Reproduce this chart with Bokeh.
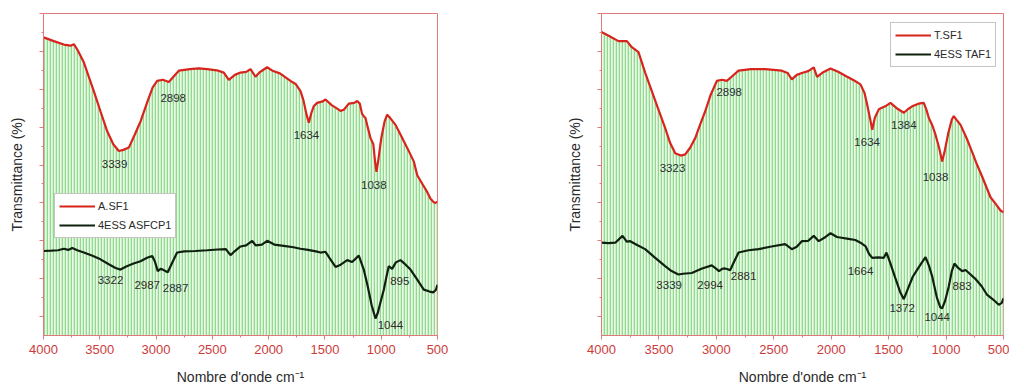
from bokeh.plotting import figure
from bokeh.layouts import row
from bokeh.models import Range1d, FixedTicker, Legend, LegendItem, ColumnDataSource
from bokeh.core.properties import value
from bokeh.embed import file_html
from bokeh.resources import INLINE

# ---------------- data ----------------
a_red_wn = [4000, 3908, 3820, 3760, 3730, 3700, 3686, 3642, 3553, 3494, 3434, 3380, 3331, 3290, 3242, 3190,
            3138, 3080, 3030, 2990, 2940, 2887, 2840, 2798, 2700, 2620, 2546, 2460, 2398, 2354, 2300, 2250,
            2200, 2161, 2117, 2080, 2013, 1960, 1900, 1806, 1760, 1717, 1690, 1665, 1643, 1620, 1600, 1569,
            1520, 1495, 1440, 1391, 1362, 1332, 1288, 1240, 1214, 1190, 1170, 1155, 1140, 1120, 1095, 1070,
            1055, 1042, 1025, 1000, 970, 947, 920, 873, 820, 760, 710, 680, 630, 592, 562, 533, 518, 500]
a_red_t = [78.7, 77.7, 76.8, 76.5, 76.9, 75.5, 74.7, 72.1, 64.5, 59.2, 53.9, 50.5, 48.7, 49.0, 49.6, 53.0,
           56.5, 61.5, 65.5, 67.2, 67.5, 66.9, 68.5, 69.9, 70.3, 70.5, 70.3, 70.0, 69.4, 67.5, 68.8, 69.4,
           69.6, 70.3, 68.3, 69.5, 70.8, 69.8, 69.2, 67.2, 66.4, 64.5, 62.0, 58.5, 56.2, 58.8, 60.5, 61.4,
           61.8, 62.3, 60.8, 59.9, 59.3, 59.6, 61.2, 61.4, 61.9, 61.2, 58.5, 57.9, 57.4, 55.0, 52.1, 50.5,
           46.0, 43.2, 46.5, 52.0, 56.5, 58.3, 57.4, 55.6, 52.5, 49.0, 45.9, 42.3, 39.8, 37.9, 36.1, 35.2, 35.0, 35.3]

a_blk_wn = [4000, 3930, 3870, 3820, 3780, 3745, 3700, 3642, 3570, 3494, 3420, 3360, 3316, 3260, 3200, 3138,
            3080, 3034, 3010, 2985, 2960, 2940, 2910, 2896, 2860, 2813, 2750, 2650, 2546, 2450, 2380, 2339,
            2300, 2250, 2200, 2146, 2116, 2060, 2013, 1950, 1850, 1780, 1717, 1650, 1580, 1539, 1495, 1460,
            1406, 1360, 1302, 1258, 1220, 1199, 1180, 1155, 1120, 1085, 1051, 1030, 1000, 977, 950, 933,
            903, 870, 829, 790, 740, 690, 622, 570, 538, 515, 500]
a_blk_t = [22.3, 22.4, 22.5, 22.9, 22.6, 23.1, 22.5, 21.9, 21.1, 20.1, 18.8, 17.8, 17.4, 18.3, 19.0, 19.6,
           20.5, 21.0, 19.5, 17.0, 17.6, 17.4, 16.9, 16.7, 19.0, 21.9, 22.2, 22.3, 22.5, 22.7, 22.8, 21.2,
           22.3, 23.5, 23.8, 25.0, 23.8, 24.0, 25.0, 24.0, 23.6, 23.3, 22.9, 22.6, 22.2, 21.9, 22.1, 20.5,
           18.1, 18.7, 19.9, 19.4, 20.5, 21.1, 19.5, 17.4, 13.0, 8.0, 4.5, 6.0, 9.5, 12.1, 16.0, 18.3,
           17.6, 19.3, 19.9, 18.9, 17.4, 15.2, 12.1, 11.6, 11.4, 12.0, 13.4]

t_red_wn = [4000, 3930, 3852, 3779, 3736, 3678, 3620, 3562, 3504, 3446, 3402, 3358, 3310, 3271, 3230, 3184,
            3140, 3097, 3050, 2996, 2950, 2909, 2860, 2807, 2700, 2575, 2500, 2430, 2380, 2343, 2300, 2256,
            2200, 2152, 2123, 2070, 2006, 1940, 1861, 1800, 1745, 1710, 1687, 1660, 1643, 1620, 1586, 1530,
            1484, 1430, 1368, 1330, 1295, 1240, 1194, 1170, 1150, 1120, 1092, 1060, 1034, 1010, 980, 950,
            933, 910, 874, 820, 770, 729, 680, 613, 570, 526, 500]
t_red_t = [80.1, 79.0, 77.7, 77.7, 76.1, 74.8, 69.4, 64.5, 59.6, 54.8, 50.8, 48.1, 47.5, 47.8, 49.5, 52.1,
           55.8, 59.2, 63.5, 67.2, 67.5, 67.2, 68.5, 69.9, 70.3, 70.3, 70.1, 69.9, 69.3, 67.6, 68.8, 69.3,
           69.8, 70.8, 68.3, 69.5, 70.5, 69.6, 68.3, 67.3, 66.3, 64.0, 61.0, 57.0, 54.3, 57.5, 59.7, 60.5,
           61.4, 60.0, 58.8, 59.8, 60.5, 61.2, 61.4, 59.5, 57.4, 55.5, 53.0, 49.5, 45.9, 49.0, 53.5, 57.0,
           57.9, 57.0, 55.6, 52.0, 48.2, 45.0, 41.5, 36.5, 34.8, 33.0, 32.5]

t_blk_wn = [4000, 3940, 3880, 3817, 3780, 3750, 3690, 3620, 3540, 3446, 3390, 3330, 3290, 3214, 3130, 3040,
            3000, 2977, 2950, 2925, 2900, 2880, 2850, 2807, 2720, 2633, 2520, 2401, 2343, 2300, 2256, 2200,
            2152, 2109, 2060, 2006, 1950, 1850, 1790, 1745, 1700, 1670, 1643, 1590, 1542, 1519, 1490, 1440,
            1400, 1368, 1330, 1290, 1251, 1210, 1179, 1150, 1121, 1080, 1050, 1034, 1010, 976, 950, 927,
            900, 860, 830, 787, 740, 690, 642, 590, 541, 515, 500]
t_blk_t = [24.5, 24.4, 24.5, 26.3, 24.8, 24.9, 23.9, 22.8, 20.7, 18.3, 17.0, 16.1, 16.3, 16.5, 17.6, 18.5,
           17.6, 17.0, 17.6, 17.7, 17.5, 17.2, 19.2, 21.9, 22.5, 22.8, 23.5, 24.1, 22.8, 23.4, 24.9, 25.0,
           26.3, 24.9, 25.8, 27.0, 26.0, 25.5, 25.2, 24.5, 23.5, 21.5, 20.5, 20.6, 20.5, 21.9, 19.5, 15.0,
           11.5, 9.6, 12.5, 15.5, 17.4, 19.3, 20.7, 18.5, 15.6, 10.0, 7.4, 7.2, 9.0, 13.0, 17.0, 19.0,
           18.0, 17.0, 17.3, 16.1, 14.8, 13.0, 10.7, 9.5, 8.1, 8.6, 9.8]

# peak labels (text, wavenumber, transmittance position)
a_lab_text = ["3339", "2898", "1634", "1038", "3322", "2987", "2887", "1044", "895"]
a_lab_wn = [3369, 2848, 1664, 1066, 3405, 3079, 2827, 918, 835]
a_lab_t = [45.4, 62.6, 53.0, 39.6, 14.7, 13.4, 12.5, 2.7, 14.3]

t_lab_text = ["3323", "2898", "1634", "1384", "1038", "3339", "2994", "2881", "1664", "1372", "1044", "883"]
t_lab_wn = [3382, 2888, 1687, 1368, 1092, 3411, 3054, 2763, 1745, 1382, 1077, 860]
t_lab_t = [44.1, 64.4, 51.2, 55.6, 41.9, 13.4, 13.4, 15.6, 17.0, 7.2, 5.0, 13.0]

x_ticks = [4000, 3500, 3000, 2500, 2000, 1500, 1000, 500]
x_minor = list(range(500, 4001, 250))
y_ticks = [5, 15, 25, 35, 45, 55, 65, 75, 85]
y_minor = [10, 20, 30, 40, 50, 60, 70, 80]

FONT = "Liberation Sans"
AXIS_RED = "#e07a7a"
LABEL_RED = "#cc3b3b"


def make_fig(red_wn, red_t, blk_wn, blk_t, names, lab_text, lab_wn, lab_t,
             width, border_left, border_right, legend_loc):
    p = figure(width=width, height=387, output_backend="svg", toolbar_location=None,
               x_range=Range1d(4000, 500), y_range=Range1d(0, 85),
               min_border_left=border_left, min_border_right=border_right,
               min_border_top=13, min_border_bottom=10)
    p.grid.visible = False
    p.outline_line_color = AXIS_RED
    p.outline_line_width = 1
    p.background_fill_color = "white"

    p.varea(x=red_wn, y1=0, y2=red_t, fill_color="#eaf9e6", fill_alpha=1.0,
            hatch_pattern="vertical_line", hatch_color="#8fda8f", hatch_weight=1.6, hatch_scale=3)

    r_red = p.line(red_wn, red_t, line_color="#d8241c", line_width=2.2)
    r_blk = p.line(blk_wn, blk_t, line_color="#10200f", line_width=2.2)

    src = ColumnDataSource(dict(x=lab_wn, y=lab_t, t=lab_text))
    p.text(x="x", y="y", text="t", source=src, text_align="center", text_baseline="middle",
           text_font=value(FONT), text_font_size="11.5px", text_color="#2e2e2e")

    # axes
    p.xaxis.ticker = FixedTicker(ticks=x_ticks, minor_ticks=x_minor)
    p.yaxis.ticker = FixedTicker(ticks=y_ticks, minor_ticks=y_minor)
    p.yaxis.major_label_overrides = {t: "" for t in y_ticks}
    p.yaxis.major_label_standoff = 0
    for ax in (p.xaxis[0], p.yaxis[0]):
        ax.axis_line_color = AXIS_RED
        ax.major_tick_line_color = AXIS_RED
        ax.minor_tick_line_color = AXIS_RED
        ax.major_tick_in = 0
        ax.major_tick_out = 4
        ax.minor_tick_in = 0
        ax.minor_tick_out = 2
        ax.axis_label_text_font = FONT
        ax.axis_label_text_font_style = "normal"
        ax.axis_label_text_font_size = "14px"
        ax.axis_label_text_color = "#2a2a2a"
        ax.major_label_text_font = FONT
    p.xaxis.major_label_text_font_size = "13px"
    p.xaxis.major_label_text_color = LABEL_RED
    p.xaxis.major_label_standoff = 5
    p.xaxis.axis_label = "Nombre d'onde cm\u207b\u00b9"
    p.xaxis.axis_label_standoff = 12
    p.yaxis.axis_label = "Transmittance (%)"
    p.yaxis.axis_label_standoff = 15

    legend = Legend(items=[LegendItem(label=names[0], renderers=[r_red]),
                           LegendItem(label=names[1], renderers=[r_blk])],
                    location=legend_loc, orientation="vertical",
                    glyph_width=36, glyph_height=16, label_height=16, spacing=3,
                    padding=4, margin=0, label_standoff=3,
                    label_text_font=FONT, label_text_font_size="11px", label_text_color="#2a2a2a",
                    border_line_color="#8a8a8a", border_line_width=1,
                    background_fill_color="white", background_fill_alpha=1.0)
    p.add_layout(legend, "center")
    return p


p1 = make_fig(a_red_wn, a_red_t, a_blk_wn, a_blk_t, ["A.SF1", "4ESS ASFCP1"],
              a_lab_text, a_lab_wn, a_lab_t, width=557, border_left=43, border_right=120,
              legend_loc=(11, 97))
p2 = make_fig(t_red_wn, t_red_t, t_blk_wn, t_blk_t, ["T.SF1", "4ESS TAF1"],
              t_lab_text, t_lab_wn, t_lab_t, width=452, border_left=44, border_right=6,
              legend_loc=(289, 268))

layout = row(p1, p2)
open("out.html", "w").write(file_html(layout, INLINE))
